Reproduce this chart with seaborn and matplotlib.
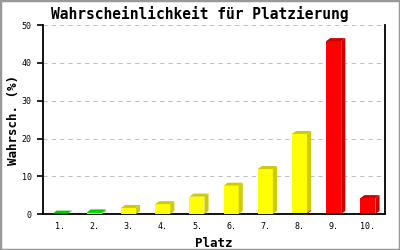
import matplotlib
matplotlib.use("Agg")
import matplotlib.pyplot as plt
import seaborn as sns
import numpy as np
import pandas as pd
from matplotlib.patches import Polygon, Rectangle

# Data
places = ["1.", "2.", "3.", "4.", "5.", "6.", "7.", "8.", "9.", "10."]
red_vals = [0, 0, 0, 0, 0, 0, 0, 0.3, 45.8, 4.2]
yellow_vals = [0, 0.3, 1.6, 2.6, 4.6, 7.5, 11.9, 20.9, 0, 0]
green_vals = [0.1, 0.1, 0, 0, 0, 0, 0, 0, 0, 0]
y_ticks = [0, 10, 20, 30, 40, 50]

series = [
    (red_vals, "#ff0000", "#cc0000"),
    (yellow_vals, "#ffff00", "#cccc00"),
    (green_vals, "#00ff00", "#00cc00"),
]

sns.set_style("white")
plt.rcParams["font.family"] = ["DejaVu Sans Mono"]
plt.rcParams["text.color"] = "black"
plt.rcParams["axes.labelcolor"] = "black"
plt.rcParams["xtick.color"] = "black"
plt.rcParams["ytick.color"] = "black"

fig = plt.figure(figsize=(4, 2.5), dpi=100)
ax = fig.add_axes([0.1075, 0.144, 0.855, 0.755])

dx, dy = 0.12, 0.8
bottom = np.zeros(len(places))
z = 2
for vals, face, dark in series:
    n_before = len(ax.patches)
    df = pd.DataFrame({"Platz": places, "v": vals})
    sns.barplot(data=df, x="Platz", y="v", color=face, saturation=1, width=0.44,
                bottom=bottom.copy(), linewidth=0, ax=ax, zorder=z, order=places)
    new = ax.patches[n_before:]
    for p in new:
        p.set_zorder(z)
        x0, y0 = p.get_x(), p.get_y()
        w, h = p.get_width(), p.get_height()
        if h <= 0:
            p.set_visible(False)
            continue
        side = Polygon([(x0 + w, y0), (x0 + w + dx, y0 + dy), (x0 + w + dx, y0 + h + dy), (x0 + w, y0 + h)],
                       closed=True, facecolor=dark, edgecolor="none", zorder=z + 0.5)
        top = Polygon([(x0, y0 + h), (x0 + dx, y0 + h + dy), (x0 + w + dx, y0 + h + dy), (x0 + w, y0 + h)],
                      closed=True, facecolor=dark, edgecolor="none", zorder=z + 0.5)
        ax.add_patch(side)
        ax.add_patch(top)
    bottom = bottom + np.array(vals)
    z += 1

ax.set_xlim(-0.5, len(places) - 0.5)
ax.set_ylim(0, 50)
ax.set_yticks(y_ticks)
ax.set_yticklabels([str(t) for t in y_ticks])
ax.yaxis.grid(True, color="#c0c0c0", linestyle=(0, (4, 4)), linewidth=0.75)
ax.set_axisbelow(True)

for s in ["left", "right", "bottom"]:
    ax.spines[s].set_visible(True)
    ax.spines[s].set_color("black")
    ax.spines[s].set_linewidth(1.3)
ax.spines["top"].set_visible(False)

ax.tick_params(axis="y", which="both", left=True, length=4, width=1.2, color="black",
               labelcolor="black", labelsize=6, pad=4)
ax.tick_params(axis="x", which="both", bottom=False, length=0, labelcolor="black",
               labelsize=6, pad=6)

ax.set_xlabel("Platz", fontsize=9, fontweight="bold", labelpad=4, color="black")
ax.set_ylabel("Wahrsch. (%)", fontsize=9, fontweight="bold", color="black")
ax.yaxis.set_label_coords(-0.068, 0.5)
fig.text(0.5, 0.944, "Wahrscheinlichkeit für Platzierung", ha="center", va="center",
         fontsize=10.5, fontweight="bold", color="black")

fig.patches.append(Rectangle((0, 0), 1, 1, transform=fig.transFigure, fill=False,
                             edgecolor="#999999", linewidth=2.5, zorder=10))

fig.savefig("out.png", dpi=100, facecolor="white")
